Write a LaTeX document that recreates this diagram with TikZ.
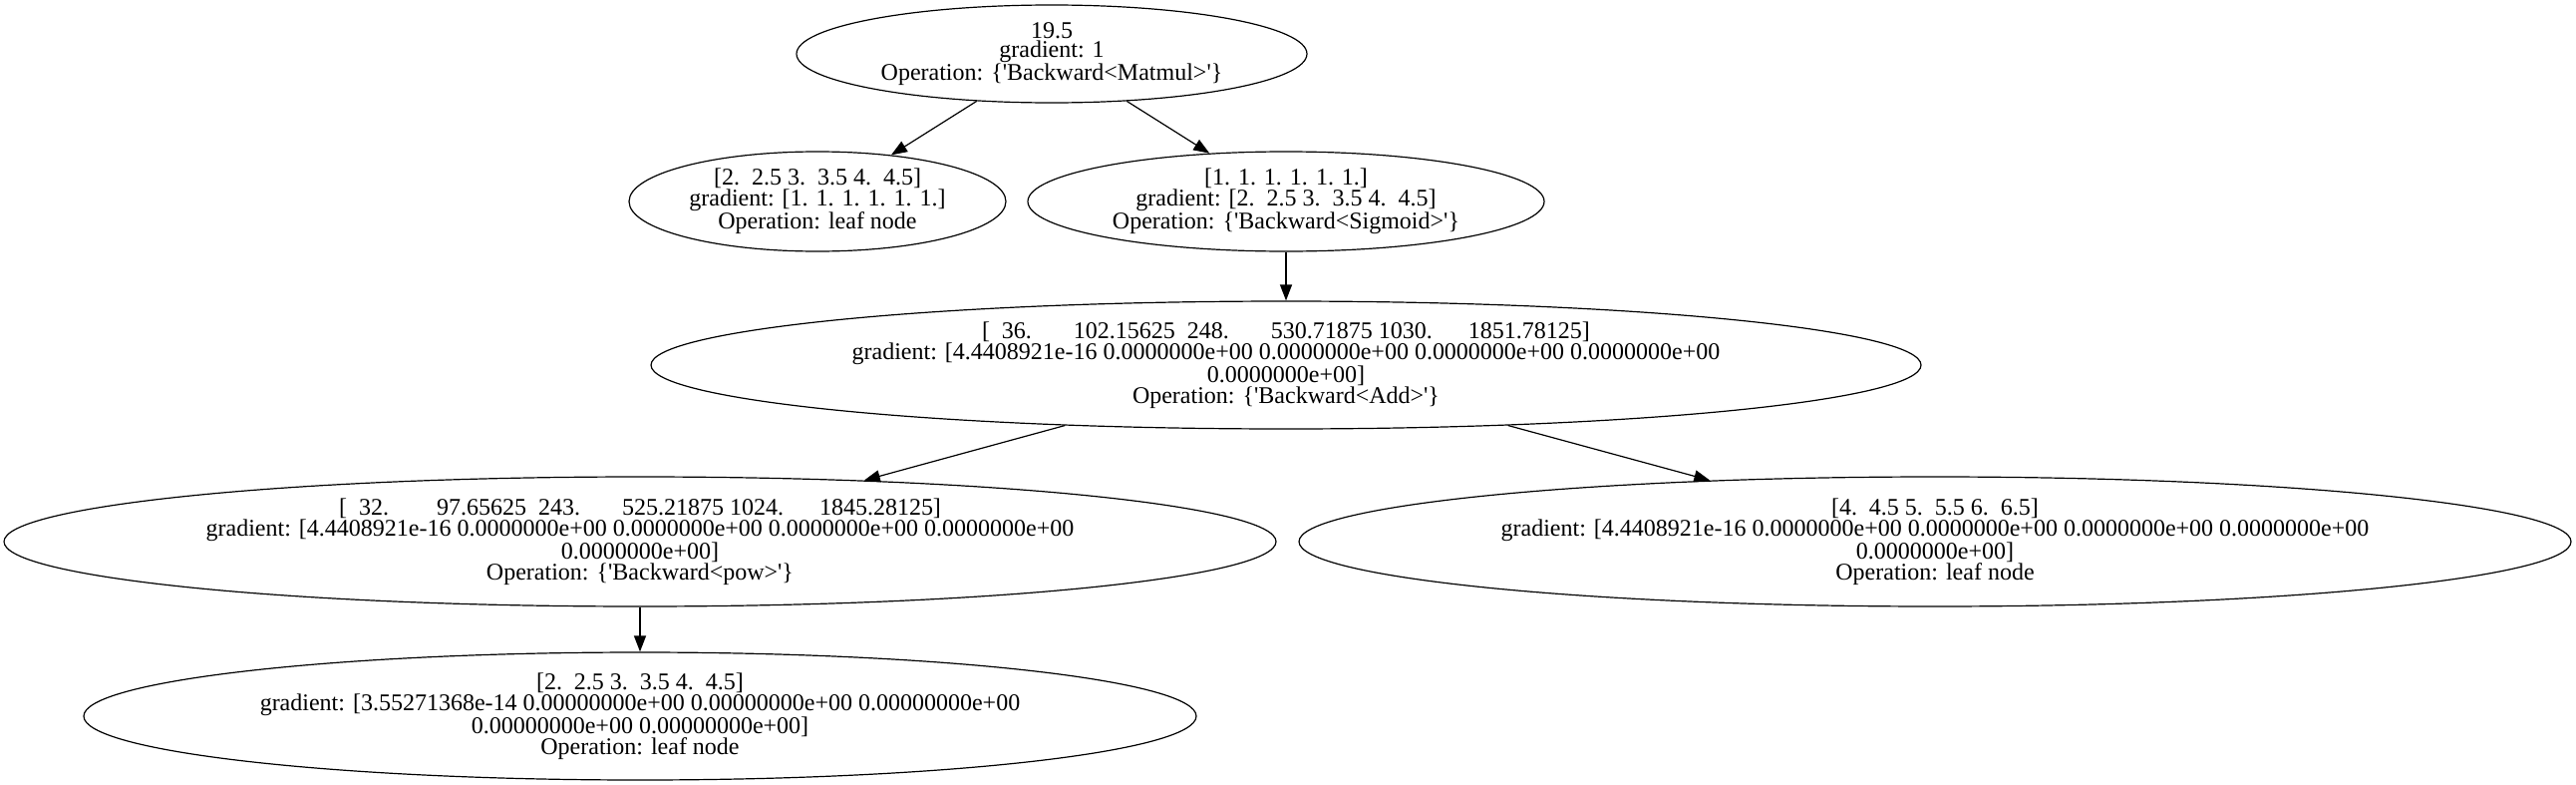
\documentclass[tikz,border=0pt]{standalone}
\usepackage{fontspec}
\setmainfont{Liberation Serif}
\usepackage{tikz}
\usetikzlibrary{shapes.geometric, arrows.meta}

\newcommand{\qt}{\textquotesingle}

\begin{document}
\begin{tikzpicture}[x=1pt, y=-1pt, >={Triangle[length=16pt, width=12pt]},
    tnode/.style={draw, ellipse, line width=1.2pt, inner sep=0pt, align=center,
        font=\fontsize{24}{19.5}\selectfont},
    tedge/.style={->, line width=1.2pt}]
    % Frame
    \useasboundingbox (0,0) rectangle (2584,787);

    % Root
    \node[tnode, minimum width=512, minimum height=98] (matmul) at (1055,54)
        {19.5\\gradient: 1\\Operation: \{\qt Backward<Matmul>\qt\}};

    % Second row
    \node[tnode, minimum width=378, minimum height=100] (leafa) at (820,202)
        {[2.~~2.5 3.~~3.5 4.~~4.5]\\gradient: [1. 1. 1. 1. 1. 1.]\\Operation: leaf node};
    \node[tnode, minimum width=518, minimum height=100] (sigmoid) at (1290,202)
        {[1. 1. 1. 1. 1. 1.]\\gradient: [2.~~2.5 3.~~3.5 4.~~4.5]\\Operation: \{\qt Backward<Sigmoid>\qt\}};

    % Add
    \node[tnode, minimum width=1274, minimum height=128] (add) at (1290,366)
        {[~~36.~~~~~~~102.15625~~248.~~~~~~~530.71875 1030.~~~~~~1851.78125]\\
         gradient: [4.4408921e-16 0.0000000e+00 0.0000000e+00 0.0000000e+00 0.0000000e+00\\
         0.0000000e+00]\\Operation: \{\qt Backward<Add>\qt\}};

    % Fourth row
    \node[tnode, minimum width=1276, minimum height=130] (pow) at (642,543)
        {[~~32.~~~~~~~~97.65625~~243.~~~~~~~525.21875 1024.~~~~~~1845.28125]\\
         gradient: [4.4408921e-16 0.0000000e+00 0.0000000e+00 0.0000000e+00 0.0000000e+00\\
         0.0000000e+00]\\Operation: \{\qt Backward<pow>\qt\}};
    \node[tnode, minimum width=1276, minimum height=130] (leafb) at (1941,543)
        {[4.~~4.5 5.~~5.5 6.~~6.5]\\
         gradient: [4.4408921e-16 0.0000000e+00 0.0000000e+00 0.0000000e+00 0.0000000e+00\\
         0.0000000e+00]\\Operation: leaf node};

    % Bottom leaf
    \node[tnode, minimum width=1116, minimum height=128] (leafc) at (642,718)
        {[2.~~2.5 3.~~3.5 4.~~4.5]\\
         gradient: [3.55271368e-14 0.00000000e+00 0.00000000e+00 0.00000000e+00\\
         0.00000000e+00 0.00000000e+00]\\Operation: leaf node};

    % Edges
    \draw[tedge] (matmul) -- (leafa);
    \draw[tedge] (matmul) -- (sigmoid);
    \draw[tedge] (sigmoid) -- (add);
    \draw[tedge] (add) -- (pow);
    \draw[tedge] (add) -- (leafb);
    \draw[tedge] (pow) -- (leafc);
\end{tikzpicture}
\end{document}
